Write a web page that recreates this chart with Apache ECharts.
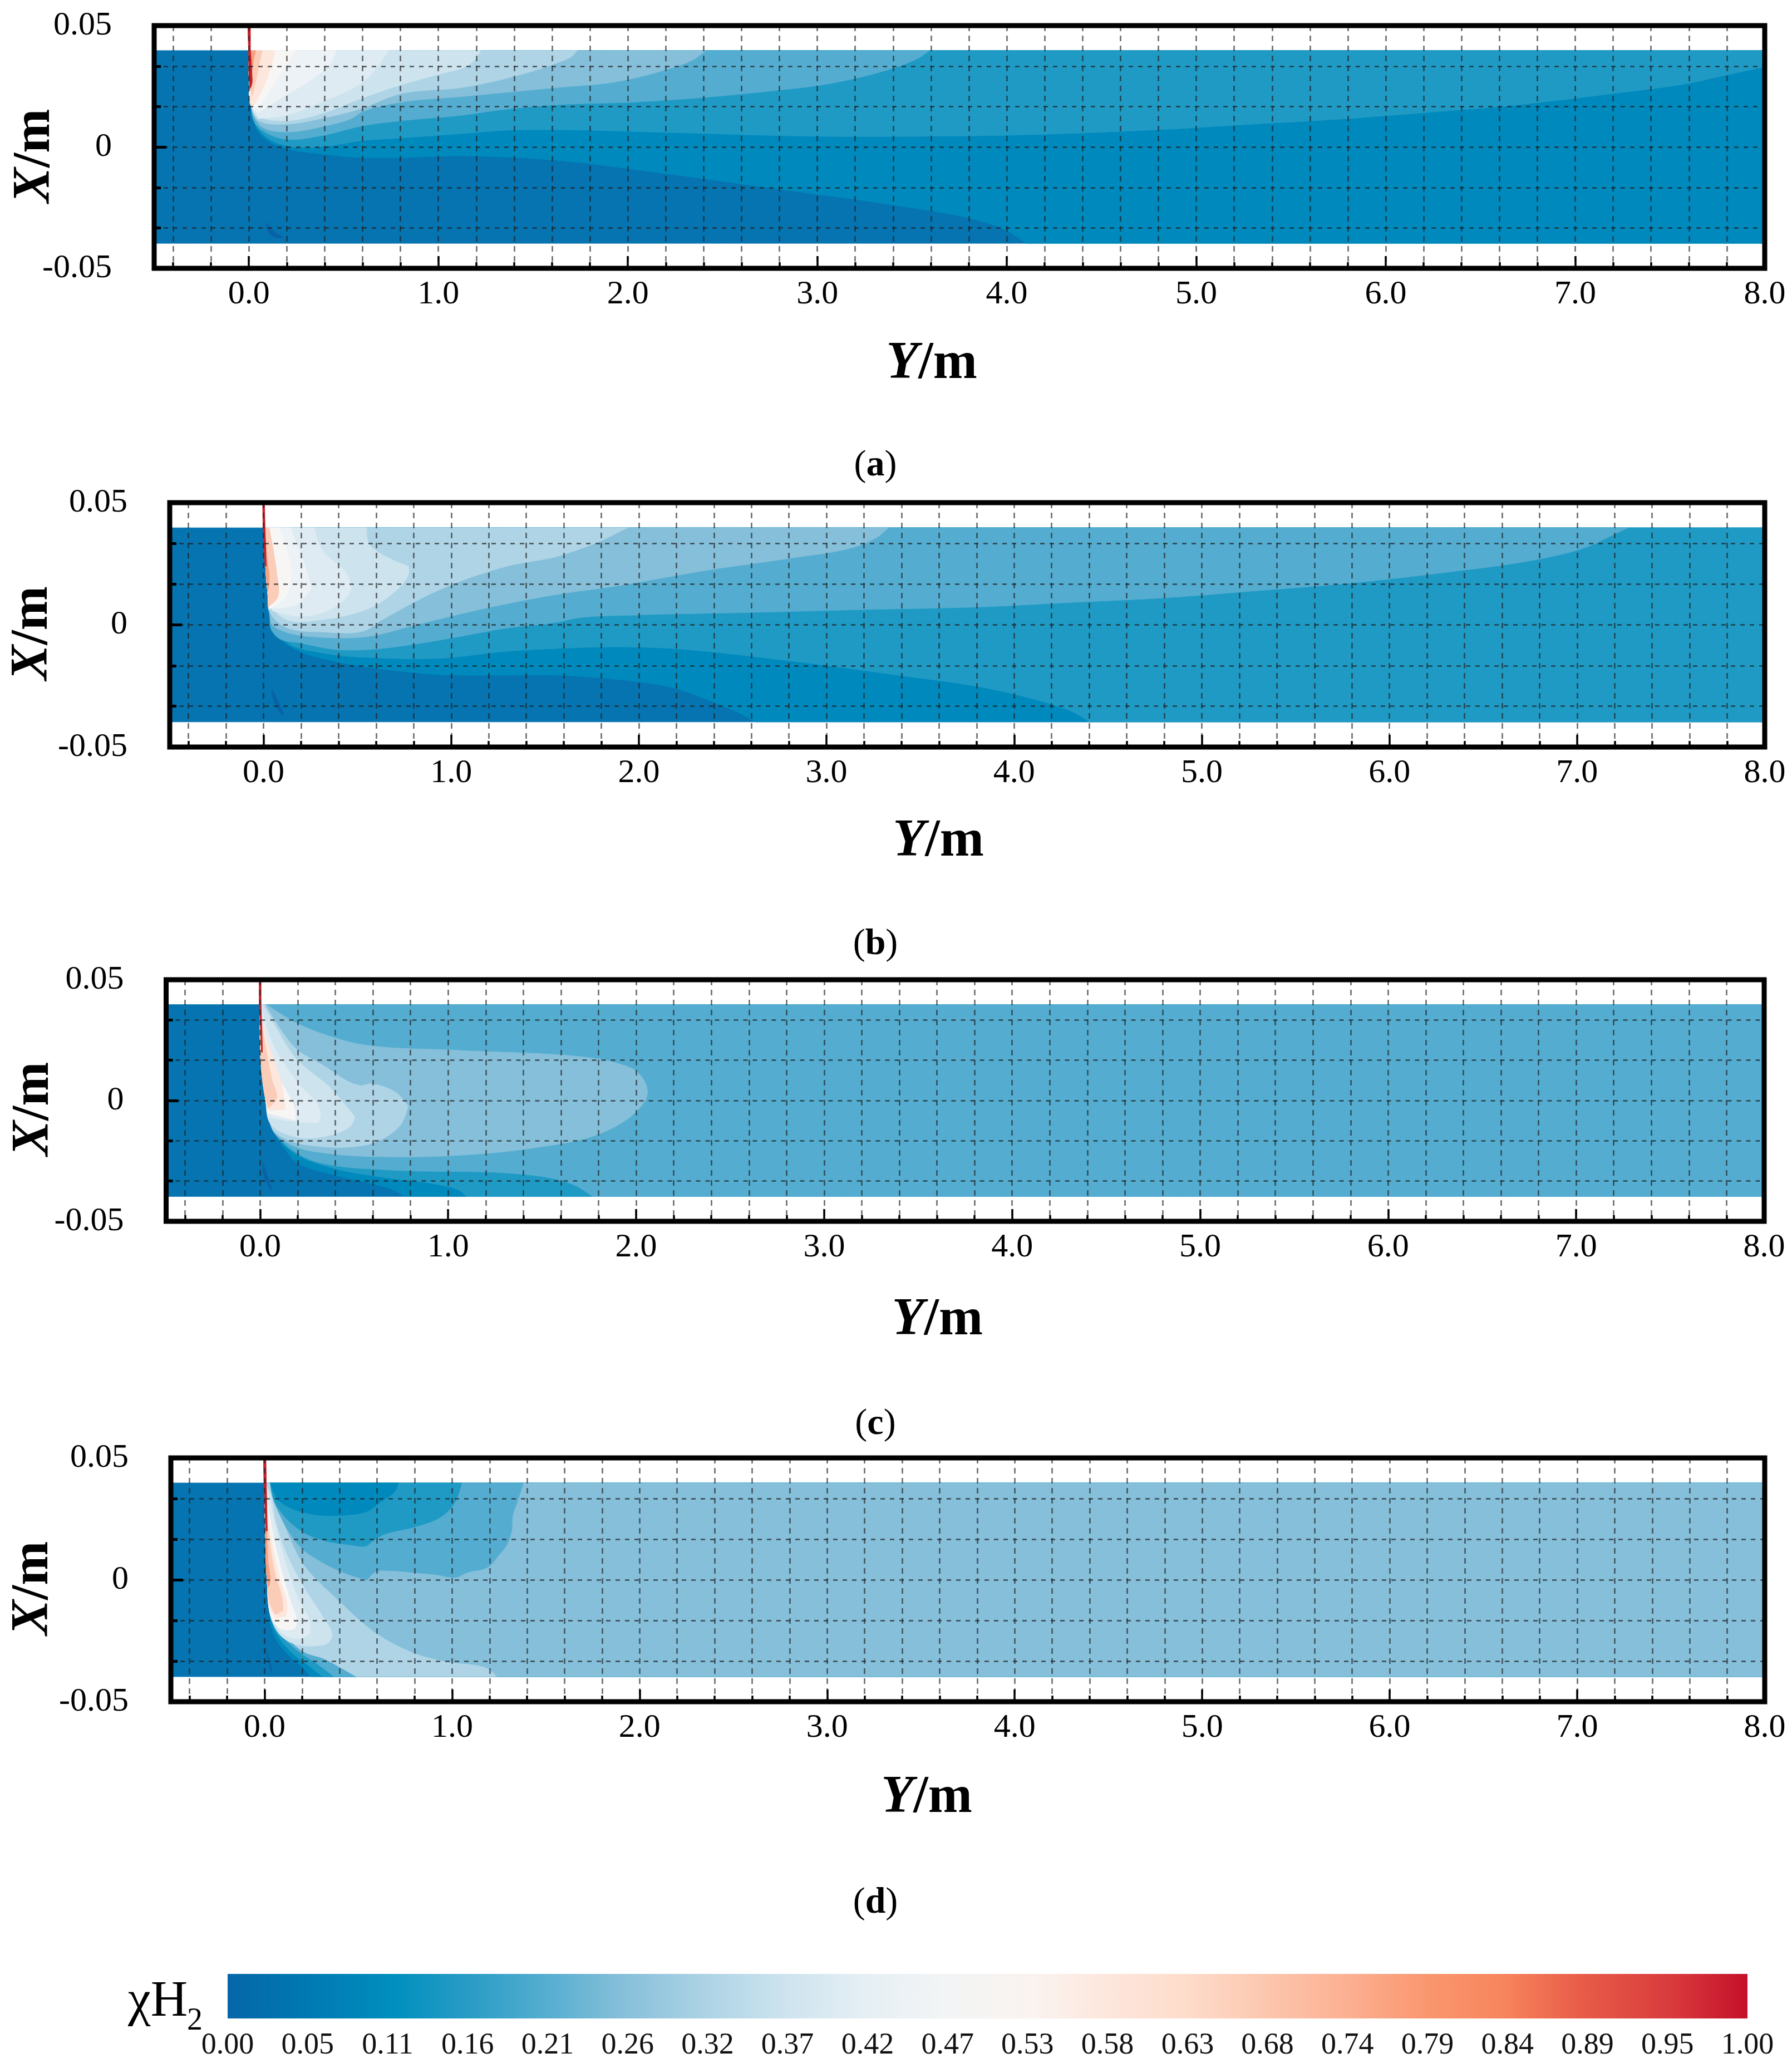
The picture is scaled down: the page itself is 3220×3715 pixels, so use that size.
<!DOCTYPE html>
<html><head><meta charset="utf-8">
<style>html,body{margin:0;padding:0;background:#fff}#c{width:3220px;height:3715px}</style>
<script src="https://cdn.jsdelivr.net/npm/echarts@6/dist/echarts.min.js"></script>
</head><body><div id="c"></div>
<script>
// ---------- axes ----------
const yMin=-0.5, yMax=8.0, xMin=-0.05, xMax=0.05;
const gridY=[-0.4,-0.2,0,0.2,0.4,0.6,0.8,1,1.2,1.4,1.6,1.8,2,2.2,2.4,2.6,2.8,3,3.2,3.4,3.6,3.8,4,4.2,4.4,4.6,4.8,5,5.2,5.4,5.6,5.8,6,6.2,6.4,6.6,6.8,7,7.2,7.4,7.6,7.8,8];
const majorY=[0,1,2,3,4,5,6,7,8];
const gridX=[-0.0333,-0.0167,0,0.0167,0.0333];
const labelX=[-0.05,0,0.05];
const majorX=[0];
const captions=['a','b','c','d'];
const colorbarTicks=[0,0.0526,0.1053,0.1579,0.2105,0.2632,0.3158,0.3684,0.4211,0.4737,0.5263,0.5789,0.6316,0.6842,0.7368,0.7895,0.8421,0.8947,0.9474,1];
const colorbarStops=[[0,'#0566a8'],[0.05,'#0078b2'],[0.11,'#008fbe'],[0.16,'#2a9cc6'],[0.21,'#55aed0'],[0.26,'#86bfd9'],[0.32,'#b0d5e6'],[0.37,'#cfe4ef'],[0.42,'#e6eff4'],[0.47,'#f2f4f5'],[0.53,'#faf3ef'],[0.58,'#fde6dc'],[0.63,'#fedccb'],[0.68,'#fcc8b0'],[0.74,'#fcae90'],[0.79,'#fa966e'],[0.84,'#f7845c'],[0.89,'#e85c48'],[0.95,'#d93a3c'],[1,'#c4102a']];

// ---------- contour level colours ----------
const C0='#0574b0',C1='#0089bd',C2='#1f9ac5',C3='#54add0',C4='#85bfda',C5='#aed4e6',C6='#cde4ef',C7='#deebf3',C8='#edf2f6',C9='#f7f6f5',C10='#fde6dc',C11='#fbcdb8',C12='#f6a080',CRED='#c5202a',CDEEP='#0a62a6';

// ---------- flow domain ----------
const band=[[-0.5,0.0397],[8,0.0397],[8,-0.0397],[-0.5,-0.0397]];
const top8=[[8,-0.0397],[8,0.0397]];

// ---------- panel (a): [Y, X] contour edges ----------
const A_wall=[[0,0.0397],[0.003,0.0268],[0.012,0.0169]];
const A_L1=[[0.02,0.0119],[0.05,0.0062],[0.1,0.0025],[0.197,-0.0007],[0.393,-0.003],[0.589,-0.0044],[0.804,-0.0044],[1.126,-0.0037],[1.625,-0.0055],[2.2,-0.011],[2.8,-0.0174],[3.39,-0.0238],[3.81,-0.0295],[3.99,-0.0341],[4.1,-0.0397]];
const A_L2=[[0.02,0.0117],[0.08,0.0048],[0.197,0.0005],[0.393,0.0002],[0.589,0.0025],[0.804,0.0037],[1.126,0.0055],[1.367,0.0069],[1.625,0.0071],[2.2,0.006],[2.994,0.0044],[3.58,0.0044],[4.09,0.005],[4.85,0.0073],[5.19,0.0089],[5.8,0.0117],[6.39,0.0153],[6.64,0.0169],[7.2,0.022],[7.59,0.0261],[7.79,0.0295],[8,0.033],[8,0.0397]];
const A_L3=[[0.035,0.0096],[0.1,0.0055],[0.197,0.0032],[0.393,0.0048],[0.569,0.0082],[0.636,0.0092],[0.804,0.0108],[1.126,0.0131],[1.33,0.0153],[1.625,0.0174],[2.035,0.0185],[2.396,0.0204],[2.757,0.0231],[3.065,0.0261],[3.393,0.0323],[3.54,0.0369],[3.59,0.0397]];
const A_L4=[[0.035,0.0115],[0.07,0.0082],[0.197,0.0062],[0.393,0.0085],[0.54,0.0117],[0.598,0.0145],[0.804,0.0185],[1.126,0.0208],[1.625,0.0245],[1.933,0.0268],[2.2,0.0318],[2.346,0.036],[2.41,0.0397]];
const A_L5=[[0.03,0.0125],[0.06,0.0105],[0.197,0.0094],[0.393,0.0119],[0.589,0.0158],[0.804,0.022],[1.126,0.0245],[1.42,0.0295],[1.625,0.0346],[1.7,0.0371],[1.733,0.0397]];
const A_L6=[[0.05,0.0128],[0.197,0.0108],[0.393,0.014],[0.589,0.0199],[0.804,0.0256],[1.04,0.0307],[1.126,0.0325],[1.19,0.0357],[1.223,0.0397]];
const A_L7=[[0.05,0.0117],[0.197,0.0131],[0.402,0.0192],[0.54,0.0238],[0.636,0.0291],[0.736,0.0397]];
const A_L8=[[0.05,0.014],[0.197,0.0215],[0.343,0.0284],[0.431,0.0346],[0.46,0.0397]];
const A_L9=[[0.05,0.0163],[0.129,0.0254],[0.197,0.0337],[0.246,0.0397]];
const A_L10=[[0.02,0.0163],[0.041,0.0192],[0.1,0.0291],[0.138,0.0397]];
const A_L11=[[0.018,0.0208],[0.041,0.0291],[0.07,0.0397]];
const A_L12=[[0.009,0.0254],[0.018,0.0323],[0.035,0.0397]];
const A_red=[[-0.006,0.05],[0.008,0.05],[0.008,0.04],[0.016,0.03],[0.016,0.026],[0.006,0.024],[0.001,0.03],[-0.002,0.04]];
const A_streak=[[0.091,-0.0311],[0.129,-0.0346],[0.182,-0.0373],[0.138,-0.0373],[0.1,-0.0346]];

// ---------- panel (b) ----------
const B_wall=[[0,0.0397],[0.01,0.025],[0.022,0.0136],[0.034,0.0035]];
const B_L1=[[0.046,-0.0024],[0.17,-0.0101],[0.365,-0.0147],[0.635,-0.0181],[0.954,-0.0204],[1.297,-0.0206],[1.558,-0.0206],[1.93,-0.0227],[2.18,-0.0257],[2.39,-0.0314],[2.53,-0.0359],[2.62,-0.0397]];
const B_L2=[[0.028,0.0051],[0.12,-0.007],[0.315,-0.0115],[0.635,-0.0136],[0.954,-0.0136],[1.297,-0.0108],[1.558,-0.0097],[1.87,-0.009],[2.18,-0.0097],[2.8,-0.0147],[3.38,-0.0206],[3.84,-0.0257],[4.15,-0.0314],[4.32,-0.0359],[4.4,-0.0397]];
const B_L3=[[0.04,-0.0017],[0.084,-0.0056],[0.194,-0.0074],[0.389,-0.0101],[0.561,-0.0101],[0.806,-0.0079],[1.05,-0.0047],[1.297,-0.0013],[1.558,0.001],[1.68,0.0029],[1.97,0.004],[2.6,0.0051],[3.22,0.0063],[3.84,0.0074],[4.255,0.009],[4.81,0.0111],[5.23,0.0136],[5.78,0.017],[6.26,0.0211],[6.79,0.0268],[7.05,0.0318],[7.18,0.0364],[7.27,0.0397]];
const B_L4=[[0.04,0.0006],[0.117,-0.0029],[0.315,-0.0051],[0.561,-0.0047],[0.806,-0.0001],[1.176,0.0067],[1.558,0.0124],[1.87,0.0158],[2.39,0.0227],[2.8,0.0272],[3.155,0.032],[3.27,0.0359],[3.33,0.0397]];
const B_L5=[[0.034,0.0051],[0.12,-0.001],[0.315,-0.0029],[0.537,-0.0024],[0.635,0.0022],[0.954,0.0149],[1.297,0.024],[1.558,0.0279],[1.79,0.0341],[1.9,0.0382],[1.94,0.0397]];
const B_L6=[[0.034,0.0086],[0.12,0.0022],[0.315,0.0022],[0.561,0.0067],[0.685,0.0127],[0.771,0.0204],[0.771,0.024],[0.635,0.0286],[0.561,0.0332],[0.549,0.0397]];
const B_L7=[[0.046,0.0058],[0.194,0.0035],[0.365,0.0067],[0.463,0.0143],[0.44,0.0211],[0.315,0.0302],[0.268,0.0397]];
const B_L8=[[0.034,0.007],[0.17,0.0081],[0.256,0.0149],[0.217,0.025],[0.143,0.0397]];
const B_L9=[[0.028,0.0063],[0.12,0.012],[0.143,0.0234],[0.084,0.0397]];
const B_L11=[[0.025,0.0074],[0.075,0.0113],[0.07,0.0211],[0.03,0.0397]];
const B_L12=[[0.022,0.0136],[0.03,0.0172],[0.018,0.028],[0.004,0.0397]];
const B_red=[[-0.005,0.05],[0.005,0.05],[0.008,0.04],[0.012,0.03],[0.014,0.024],[0.008,0.024],[0.004,0.03],[-0.003,0.04]];
const B_streak=[[0.046,-0.0263],[0.108,-0.0367],[0.095,-0.0367],[0.05,-0.03]];

// ---------- panel (c) ----------
const C_wall=[[0,0.0397],[0.004,0.0161],[0.028,0.0009],[0.063,-0.0115]];
const C_L1=[[0.137,-0.0207],[0.187,-0.0253],[0.382,-0.0306],[0.604,-0.0346],[0.725,-0.0376],[0.764,-0.0397]];
const C_L2=[[0.096,-0.0157],[0.187,-0.0221],[0.382,-0.0279],[0.702,-0.0323],[0.947,-0.0348],[1.068,-0.0376],[1.095,-0.0397]];
const C_L3=[[0.075,-0.0134],[0.214,-0.0226],[0.332,-0.026],[0.702,-0.0288],[1.313,-0.03],[1.559,-0.0323],[1.68,-0.0353],[1.768,-0.0397]];
const C_L4=[[0.09,-0.0145],[0.187,-0.0191],[0.382,-0.0221],[0.702,-0.0233],[1.068,-0.0226],[1.437,-0.0198],[1.804,-0.0138],[2.0,-0.0046],[2.06,0.0032],[2.01,0.0115],[1.9,0.0154],[1.753,0.0177],[1.068,0.0207],[0.554,0.023],[0.382,0.0263],[0.187,0.0323],[0.034,0.0397]];
const C_L5=[[0.075,-0.0129],[0.161,-0.0168],[0.332,-0.0191],[0.504,-0.0191],[0.628,-0.0168],[0.749,-0.0099],[0.787,-0.0023],[0.725,0.0032],[0.589,0.0069],[0.53,0.0062],[0.332,0.0147],[0.187,0.0217],[0.028,0.0397]];
const C_L6=[[0.057,-0.0099],[0.187,-0.015],[0.332,-0.015],[0.48,-0.0106],[0.504,-0.0069],[0.382,0.0046],[0.187,0.0177],[0.063,0.0332],[0.016,0.0397]];
const C_L7=[[0.045,-0.0069],[0.137,-0.0083],[0.309,-0.0092],[0.32,-0.0046],[0.187,0.0085],[0.063,0.024],[0.016,0.0355]];
const C_L8=[[0.04,-0.0053],[0.187,-0.0081],[0.187,-0.0046],[0.09,0.0115],[0.028,0.0276]];
const C_L10=[[0.04,-0.0041],[0.132,-0.0037],[0.114,0.0069],[0.028,0.0276]];
const C_L11=[[0.045,-0.003],[0.087,0.0009],[0.063,0.0085],[0.01,0.0316]];
const C_red=[[-0.005,0.05],[0.005,0.05],[0.005,0.04],[0.01,0.028],[0.012,0.02],[0.007,0.02],[0.002,0.03],[-0.005,0.04]];
const C_streak=[[0.016,-0.026],[0.063,-0.0371],[0.058,-0.0371],[0.016,-0.03]];

// ---------- panel (d) ----------
const D_wall=[[0,0.0397],[0.004,0.0201],[0.013,0.0003],[0.03,-0.0142]];
const D_L1=[[0.03,-0.018],[0.07,-0.0256],[0.138,-0.0317],[0.206,-0.0362],[0.245,-0.0397]];
const D_L2=[[0.041,-0.018],[0.087,-0.0248],[0.16,-0.0309],[0.24,-0.0355],[0.308,-0.0397]];
const D_L3=[[0.047,-0.018],[0.104,-0.024],[0.194,-0.0301],[0.285,-0.0347],[0.37,-0.0397]];
const D_L4=[[0.05,-0.0175],[0.115,-0.0233],[0.206,-0.0294],[0.319,-0.0324],[0.41,-0.0362],[0.489,-0.0397]];
const D_patch3=[[0.03,0.0397],[0.047,0.033],[0.104,0.0231],[0.194,0.0132],[0.308,0.0072],[0.41,0.0033],[0.546,-0.0001],[0.591,0.0033],[0.682,0.0037],[0.795,0.003],[0.909,0.0022],[1.022,0.0011],[1.079,0.003],[1.192,0.0053],[1.249,0.0102],[1.288,0.014],[1.317,0.0201],[1.322,0.0262],[1.345,0.0315],[1.379,0.0397]];
const D_patch2=[[0.03,0.0397],[0.047,0.033],[0.104,0.0262],[0.194,0.0201],[0.308,0.0163],[0.455,0.0144],[0.546,0.014],[0.569,0.0155],[0.636,0.0186],[0.795,0.0216],[0.931,0.0254],[0.999,0.03],[1.034,0.0353],[1.05,0.0397]];
const D_patch1=[[0.03,0.0397],[0.07,0.033],[0.16,0.0288],[0.285,0.0266],[0.432,0.0266],[0.546,0.0281],[0.625,0.0323],[0.693,0.0361],[0.714,0.0397]];
const D_L5=[[0.053,-0.018],[0.115,-0.0233],[0.206,-0.0294],[0.319,-0.0324],[0.41,-0.0362],[0.489,-0.0397],[1.237,-0.0397],[1.192,-0.0366],[0.965,-0.0336],[0.795,-0.0301],[0.591,-0.0218],[0.398,-0.0088],[0.206,0.0064],[0.104,0.0224],[0.041,0.0338],[0.027,0.0397]];
const D_L6=[[0.041,-0.0172],[0.081,-0.0225],[0.149,-0.026],[0.274,-0.0271],[0.342,-0.0256],[0.359,-0.0225],[0.308,-0.0149],[0.206,-0.0027],[0.115,0.011],[0.058,0.0239],[0.03,0.0353]];
const D_L7=[[0.047,-0.0172],[0.104,-0.0225],[0.194,-0.024],[0.245,-0.0218],[0.24,-0.0172],[0.172,-0.0065],[0.104,0.0087],[0.047,0.0254],[0.019,0.0353]];
const D_L8=[[0.041,-0.0164],[0.087,-0.0202],[0.16,-0.0202],[0.172,-0.0172],[0.138,-0.0088],[0.092,0.0033],[0.041,0.0201]];
const D_L10=[[0.03,-0.0119],[0.058,-0.0157],[0.115,-0.0149],[0.12,-0.0103],[0.081,0.0003],[0.03,0.0186]];
const D_L11=[[0.03,-0.0103],[0.058,-0.0142],[0.098,-0.0126],[0.092,-0.0073],[0.053,0.0033],[0.019,0.0201]];
const D_L12=[[0.018,-0.003],[0.026,-0.002],[0.018,0.0079],[0.004,0.03]];
const D_red=[[-0.006,0.05],[0.007,0.05],[0.009,0.04],[0.012,0.03],[0.014,0.02],[0.007,0.02],[0.002,0.03],[-0.004,0.04]];
const D_streak=[[0.007,-0.0279],[0.041,-0.0377],[0.035,-0.0379],[0.004,-0.0279]];

// region right of the injector wall and above an edge
const region=(wall,edge,tail)=>wall.filter(p=>p[1]>edge[0][1]).concat(edge,tail||[]);

const panelLayers=[
 [[band,C0],[region(A_wall,A_L1,top8),C1],[region(A_wall,A_L2),C2],[region(A_wall,A_L3),C3],[region(A_wall,A_L4),C4],[region(A_wall,A_L5),C5],[region(A_wall,A_L6),C6],[region(A_wall,A_L7),C7],[region(A_wall,A_L8),C8],[region(A_wall,A_L9),C9],[region(A_wall,A_L10),C10],[region(A_wall,A_L11),C11],[region(A_wall,A_L12),C12],[A_streak,CDEEP],[A_red,CRED]],
 [[band,C0],[region(B_wall,B_L1,top8),C1],[region(B_wall,B_L2,top8),C2],[region(B_wall,B_L3),C3],[region(B_wall,B_L4),C4],[region(B_wall,B_L5),C5],[region(B_wall,B_L6),C6],[region(B_wall,B_L7),C7],[region(B_wall,B_L8),C8],[region(B_wall,B_L9),C9],[region(B_wall,B_L11),C11],[region(B_wall,B_L12),C12],[B_streak,CDEEP],[B_red,CRED]],
 [[band,C0],[region(C_wall,C_L1,top8),C1],[region(C_wall,C_L2,top8),C2],[region(C_wall,C_L3,top8),C3],[region(C_wall,C_L4),C4],[region(C_wall,C_L5),C5],[region(C_wall,C_L6),C6],[region(C_wall,C_L7),C7],[region(C_wall,C_L8),C9],[region(C_wall,C_L10),C10],[region(C_wall,C_L11),C11],[C_streak,CDEEP],[C_red,CRED]],
 [[band,C0],[region(D_wall,D_L1,top8),C1],[region(D_wall,D_L2,top8),C2],[region(D_wall,D_L3,top8),C3],[region(D_wall,D_L4,top8),C4],[D_patch3,C3],[D_patch2,C2],[D_patch1,C1],[region(D_wall,D_L5),C5],[region(D_wall,D_L6),C6],[region(D_wall,D_L7),C7],[region(D_wall,D_L8),C9],[region(D_wall,D_L10),C10],[region(D_wall,D_L11),C11],[region(D_wall,D_L12),C12],[D_streak,CDEEP],[D_red,CRED]]
];

// Curved rendering of a contour outline: vertices on the domain edge and sharp bends stay corners,
// gentle bends are drawn as bezier arcs (like line smooth). Vertices are the data points unchanged.
function smoothClosed(pts,data){
 const n=pts.length; if(n<4) return pts;
 const tan=[];
 for(let i=0;i<n;i++){
  const a=pts[(i-1+n)%n],b=pts[i],c=pts[(i+1)%n];
  const u=[b[0]-a[0],b[1]-a[1]],v=[c[0]-b[0],c[1]-b[1]];
  const lu=Math.hypot(u[0],u[1])||1,lv=Math.hypot(v[0],v[1])||1;
  const cos=(u[0]*v[0]+u[1]*v[1])/(lu*lv);
  const onEdge=Math.abs(data[i][1])>=0.0397||data[i][0]>=8;
  if(cos<0.5||onEdge){tan.push([0,0]);continue;}
  const tx=u[0]/lu+v[0]/lv,ty=u[1]/lu+v[1]/lv,l=Math.hypot(tx,ty)||1;
  tan.push([tx/l,ty/l]);
 }
 const out=[];
 for(let i=0;i<n;i++){
  const p=pts[i],q=pts[(i+1)%n],d=Math.hypot(q[0]-p[0],q[1]-p[1])*0.33;
  const c1=[p[0]+tan[i][0]*d,p[1]+tan[i][1]*d];
  const t2=tan[(i+1)%n];
  const c2=[q[0]-t2[0]*d,q[1]-t2[1]*d];
  for(let s=0;s<10;s++){
   const t=s/10,m=1-t;
   out.push([m*m*m*p[0]+3*m*m*t*c1[0]+3*m*t*t*c2[0]+t*t*t*q[0],m*m*m*p[1]+3*m*m*t*c1[1]+3*m*t*t*c2[1]+t*t*t*q[1]]);
  }
 }
 return out;
}

// ---------- layout ----------
const FONT='"Liberation Serif"';
const layout=[
 {l:277,r:3171,t:46,b:482,nameY:166,nameX:125,shiftX:100,shiftY:32,capY:831},
 {l:305,r:3171,t:903,b:1342,nameY:198,nameX:123,shiftX:104,shiftY:30,capY:1691},
 {l:298.5,r:3170,t:1760,b:2194,nameY:190,nameX:131,shiftX:100,shiftY:30,capY:2553},
 {l:307,r:3171,t:2619,b:3057,nameY:199,nameX:126,shiftX:148,shiftY:30,capY:3413}
];
const richName={i:{fontFamily:FONT,fontStyle:'italic',fontWeight:'bold',fontSize:95,color:'#000'},b:{fontFamily:FONT,fontWeight:'bold',fontSize:95,color:'#000'}};
const dashStyleV={color:'rgba(30,30,30,0.66)',width:2.6,type:[10,8]};
const dashStyleH={color:'rgba(30,30,30,0.72)',width:2.6,type:[8,9]};

const grid=[],xAxis=[],yAxis=[],series=[],title=[];
layout.forEach((p,i)=>{
 grid.push({show:true,z:10,left:p.l,top:p.t,width:p.r-p.l,height:p.b-p.t,borderWidth:9,borderColor:'#000',backgroundColor:'transparent',outerBoundsMode:'none'});
 xAxis.push({type:'value',gridIndex:i,min:yMin,max:yMax,position:'bottom',z:8,
   name:'{i|Y}{b|/m}',nameLocation:'middle',nameGap:p.nameX,nameMoveOverlap:false,nameTextStyle:{rich:richName,padding:[0,p.shiftX,0,0]},
   axisLine:{show:false,onZero:false},
   axisTick:{show:true,inside:true,length:11,customValues:gridY,lineStyle:{color:'#000',width:3.5}},
   axisLabel:{show:true,customValues:majorY,formatter:v=>v.toFixed(1),fontFamily:FONT,fontSize:60,color:'#000',margin:17},
   splitLine:{show:true,lineStyle:dashStyleV},minorTick:{show:false}});
 xAxis.push({type:'value',gridIndex:i,min:yMin,max:yMax,position:'bottom',z:8,axisLine:{show:false,onZero:false},axisLabel:{show:false},
   axisTick:{show:true,inside:true,length:22,customValues:majorY,lineStyle:{color:'#000',width:3.5}},splitLine:{show:false}});
 yAxis.push({type:'value',gridIndex:i,min:xMin,max:xMax,position:'left',z:8,
   name:'{i|X}{b|/m}',nameLocation:'middle',nameGap:p.nameY,nameMoveOverlap:false,nameRotate:90,nameTextStyle:{rich:richName,padding:[0,p.shiftY,0,0]},
   axisLine:{show:false,onZero:false},
   axisTick:{show:true,inside:true,length:12,customValues:gridX,lineStyle:{color:'#000',width:5}},
   axisLabel:{show:true,customValues:labelX,formatter:v=>v===0?'0':v.toFixed(2),fontFamily:FONT,fontSize:60,color:'#000',margin:76,padding:[18,0,0,0]},
   splitLine:{show:true,lineStyle:dashStyleH}});
 yAxis.push({type:'value',gridIndex:i,min:xMin,max:xMax,position:'left',z:8,axisLine:{show:false,onZero:false},axisLabel:{show:false},
   axisTick:{show:true,inside:true,length:22,customValues:majorX,lineStyle:{color:'#000',width:5}},splitLine:{show:false}});
 const layers=panelLayers[i];
 series.push({type:'custom',xAxisIndex:i*2,yAxisIndex:i*2,z:2,silent:true,animation:false,clip:true,data:layers.map((_,k)=>[k]),
   renderItem:(params,api)=>{const L=layers[params.dataIndex];const pts=smoothClosed(L[0].map(q=>api.coord(q)),L[0]);return {type:'polygon',shape:{points:pts},style:{fill:L[1],stroke:L[1],lineWidth:1}};}});
 title.push({text:'({b|'+captions[i]+'})',left:1568,top:p.capY-32,textAlign:'center',
   textStyle:{fontFamily:FONT,fontSize:66,fontWeight:'normal',color:'#000',rich:{b:{fontFamily:FONT,fontSize:66,fontWeight:'bold',color:'#000'}}}});
});

// ---------- colour bar ----------
grid.push({left:409,top:3546,width:2731,height:80,show:false,outerBoundsMode:'none'});
xAxis.push({type:'value',gridIndex:4,min:0,max:1,position:'bottom',axisLine:{show:false,onZero:false},axisTick:{show:false},splitLine:{show:false},
  axisLabel:{show:true,customValues:colorbarTicks,formatter:v=>v.toFixed(2),fontFamily:FONT,fontSize:54,color:'#111',margin:22,hideOverlap:false}});
yAxis.push({type:'value',gridIndex:4,min:0,max:1,show:false});
series.push({type:'custom',xAxisIndex:8,yAxisIndex:4*2,z:2,silent:true,animation:false,data:[[0]],
  renderItem:(params,api)=>{const a=api.coord([0,1]),b=api.coord([1,0]);return {type:'rect',shape:{x:a[0],y:a[1],width:b[0]-a[0],height:b[1]-a[1]},
    style:{fill:new echarts.graphic.LinearGradient(0,0,1,0,colorbarStops.map(s=>({offset:s[0],color:s[1]})))}};}});
title.push({text:'χH',left:225,top:3546,textStyle:{fontFamily:FONT,fontSize:92,fontWeight:'normal',color:'#000'}});
title.push({text:'2',left:331,top:3598,textStyle:{fontFamily:FONT,fontSize:56,fontWeight:'normal',color:'#000'}});

const chart=echarts.init(document.getElementById('c'),null,{renderer:'canvas',width:3220,height:3715});
chart.setOption({backgroundColor:'#fff',animation:false,title,grid,xAxis,yAxis,series});
</script></body></html>
